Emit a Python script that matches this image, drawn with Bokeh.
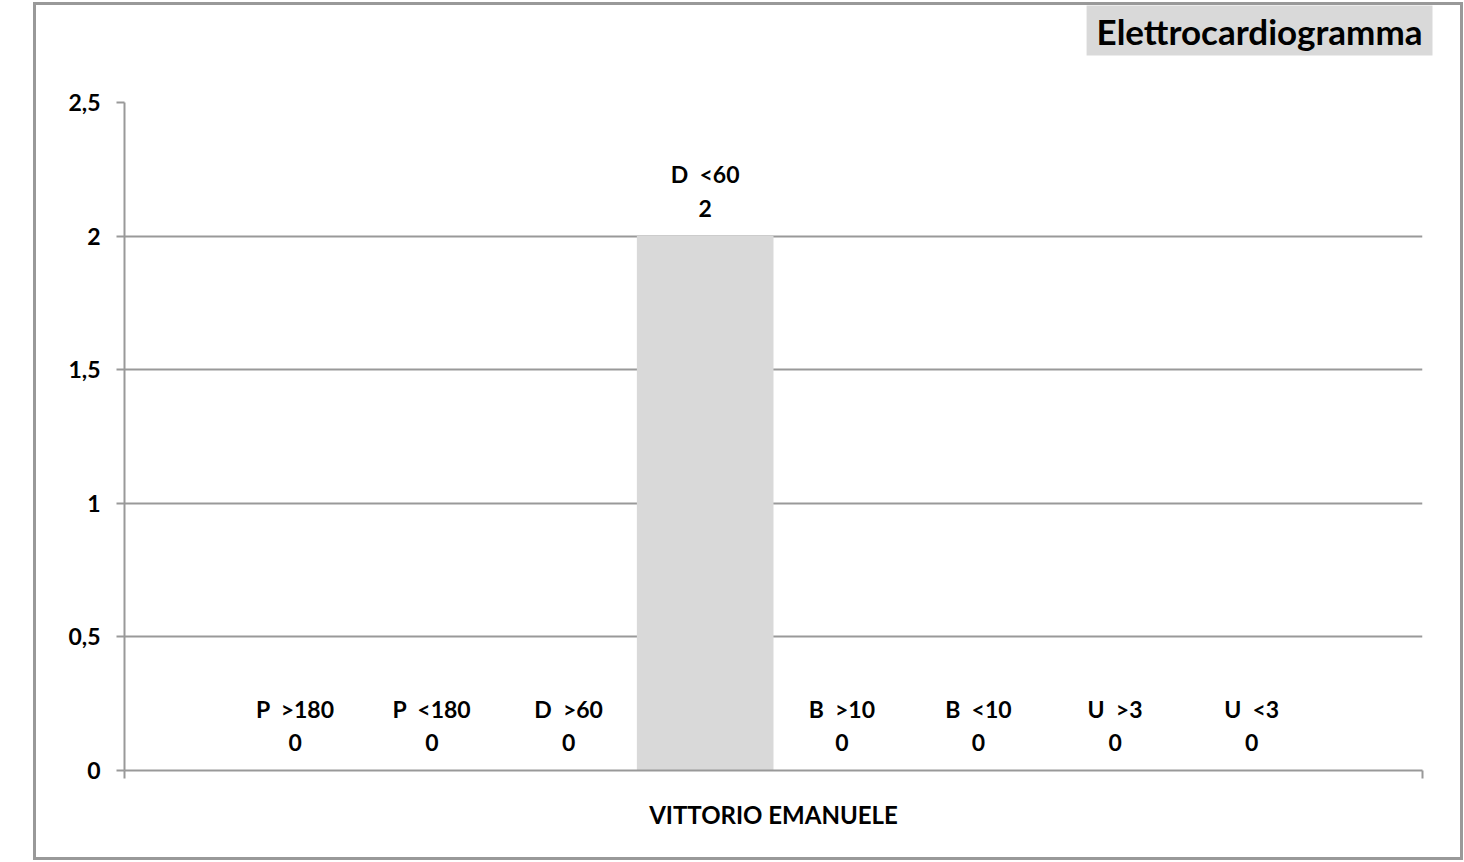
from bokeh.plotting import figure
from bokeh.models import ColumnDataSource, Range1d, FixedTicker, Title
from bokeh.core.properties import value
from bokeh.embed import file_html
from bokeh.resources import INLINE

# ---- data ----
title_text = "Elettrocardiogramma"
group_name = "VITTORIO EMANUELE"
series = ["P  >180", "P  <180", "D  >60", "D  <60", "B  >10", "B  <10", "U  >3", "U  <3"]
values = [0, 0, 0, 2, 0, 0, 0, 0]
y_ticks = [0, 0.5, 1, 1.5, 2, 2.5]
y_tick_labels = ["0", "0,5", "1", "1,5", "2", "2,5"]

FONT = "Lato"
GREY = "#999999"
BAR = "#d9d9d9"

gap = 0.75  # half of 150% gap width, in bar units
n = len(series)
x_pos = list(range(n))
src = ColumnDataSource(dict(x=x_pos, top=values,
                            name=[s.replace("  ", " \u00a0") for s in series],
                            val=[str(v) for v in values]))

p = figure(width=1430, height=858, output_backend="svg", toolbar_location=None,
           x_range=Range1d(-0.5 - gap, n - 0.5 + gap), y_range=Range1d(0, 2.5),
           min_border_left=88, min_border_right=44, min_border_top=97,
           min_border_bottom=93)
p.styles = {"margin-left": "33px", "margin-top": "2px",
            "border": "3px solid #999999"}
p.outline_line_color = None
p.background_fill_color = "white"
p.border_fill_color = "white"

# title box
p.title.text = title_text
p.title.align = "right"
p.title.vertical_align = "top"
p.title.text_font = FONT
p.title.text_font_style = "bold"
p.title.text_font_size = "35px"
p.title.text_color = "black"
p.title.background_fill_color = BAR
p.title.padding = dict(left=10, right=10, top=4, bottom=4)
p.title.standoff = 0
p.title.offset = -10

# empty spacer between title box and plot area
spacer = Title(text=" ", text_font_size="2px", standoff=41)
p.add_layout(spacer, "above")

p.vbar(x="x", top="top", bottom=0, width=1.0, source=src,
       fill_color=BAR, line_color=None)

p.text(x="x", y="top", text="name", source=src, text_align="center",
       text_baseline="middle", y_offset=-62, text_font=value(FONT),
       text_font_style="bold", text_font_size="23px", text_color="black")
p.text(x="x", y="top", text="val", source=src, text_align="center",
       text_baseline="middle", y_offset=-28, text_font=value(FONT),
       text_font_style="bold", text_font_size="23px", text_color="black")

# grid
p.xgrid.visible = False
p.ygrid.ticker = FixedTicker(ticks=y_ticks)
p.ygrid.grid_line_color = GREY
p.ygrid.grid_line_width = 2

# y axis
ya = p.yaxis[0]
ya.ticker = FixedTicker(ticks=y_ticks)
ya.major_label_overrides = {t: l for t, l in zip(y_ticks, y_tick_labels)}
ya.axis_line_color = GREY
ya.axis_line_width = 2
ya.major_tick_line_color = GREY
ya.major_tick_line_width = 2
ya.major_tick_out = 8
ya.major_tick_in = 0
ya.minor_tick_line_color = None
ya.major_label_standoff = 16
ya.major_label_text_font = FONT
ya.major_label_text_font_style = "bold"
ya.major_label_text_font_size = "23px"
ya.major_label_text_color = "black"

# x axis
xa = p.xaxis[0]
xa.ticker = FixedTicker(ticks=[-0.5 - gap, n - 0.5 + gap])
xa.major_label_text_font_size = "0px"
xa.major_label_text_color = None
xa.axis_line_color = GREY
xa.axis_line_width = 2
xa.major_tick_line_color = GREY
xa.major_tick_line_width = 2
xa.major_tick_out = 8
xa.major_tick_in = 0
xa.minor_tick_line_color = None
xa.axis_label = group_name
xa.axis_label_standoff = 21
xa.axis_label_text_font = FONT
xa.axis_label_text_font_style = "bold"
xa.axis_label_text_font_size = "24px"
xa.axis_label_text_color = "black"

open("out.html", "w").write(file_html(p, INLINE))
